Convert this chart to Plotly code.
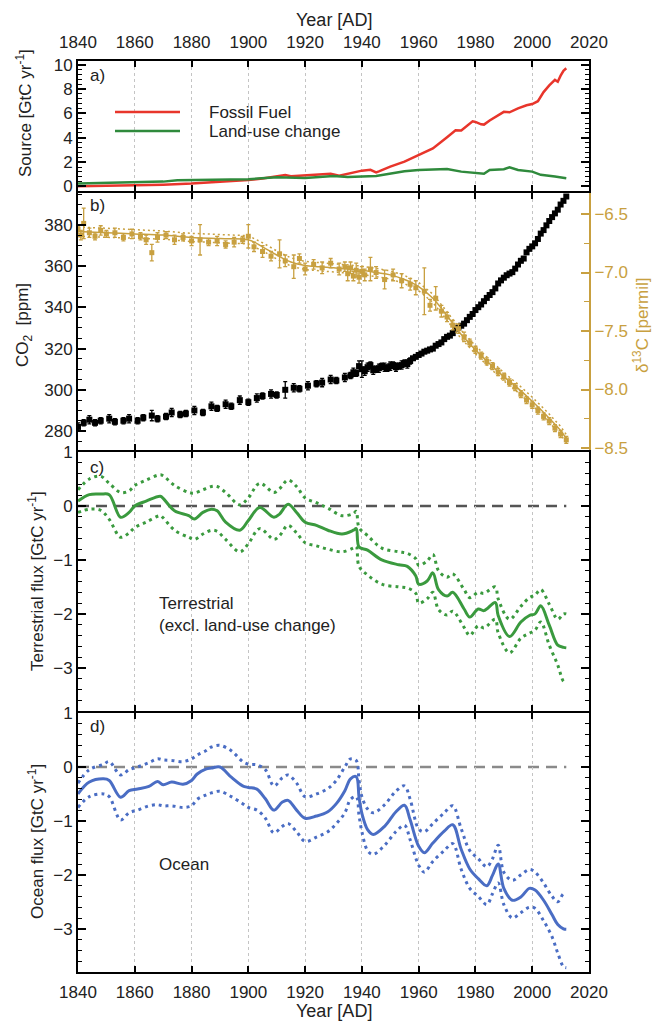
import plotly.graph_objects as go

# ---------------- data ----------------
ff_years = [1840,1850,1860,1870,1880,1890,1900,1905,1910,1913,1915,1920,1925,1929,1932,1935,1940,1943,1945,1946,1950,1955,1960,1965,1970,1973,1975,1979,1980,1982,1983,1985,1990,1992,1995,1998,2000,2002,2004,2006,2008,2009,2010,2011,2012]
ff_vals = [0.03,0.05,0.09,0.15,0.24,0.36,0.53,0.66,0.82,0.94,0.84,0.93,0.98,1.05,0.88,1.03,1.30,1.37,1.16,1.24,1.63,2.04,2.58,3.13,4.05,4.61,4.60,5.35,5.30,5.10,5.08,5.42,6.13,6.09,6.41,6.67,6.77,7.00,7.75,8.30,8.75,8.60,9.10,9.50,9.70]

luc_years = [1840,1850,1860,1870,1875,1880,1890,1900,1910,1920,1930,1935,1945,1950,1955,1960,1965,1970,1975,1980,1983,1985,1990,1992,1995,2000,2003,2008,2012]
luc_vals = [0.25,0.30,0.34,0.40,0.52,0.54,0.56,0.60,0.76,0.70,0.86,0.78,0.86,1.08,1.25,1.36,1.42,1.44,1.22,1.14,1.04,1.36,1.42,1.58,1.36,1.22,0.96,0.82,0.68]

co2_years = [1840,1842,1844,1846,1848,1851,1853,1856,1858,1861,1863,1866,1868,1871,1873,1876,1878,1881,1884,1887,1889,1892,1894,1897,1900,1903,1905,1908,1910,1913,1916,1918,1921,1924,1926,1929,1931,1934,1936,1937,1938,1939,1940,1941,1942,1943,1944,1945,1946,1947,1948,1949,1950,1951,1952,1953,1954,1955,1956,1957,
             1958,1959,1960,1961,1962,1963,1964,1965,1966,1967,1968,1969,1970,1971,1972,1973,1974,1975,1976,1977,1978,1979,1980,1981,1982,1983,1984,1985,1986,1987,1988,1989,1990,1991,1992,1993,1994,1995,1996,1997,1998,1999,2000,2001,2002,2003,2004,2005,2006,2007,2008,2009,2010,2011,2012]
co2_vals = [282.0,284.0,285.5,284.0,285.0,286.0,284.5,285.0,286.0,285.0,286.5,287.5,286.0,287.0,289.0,288.0,288.5,290.0,289.0,292.0,291.0,293.0,292.0,295.0,294.0,296.0,297.0,298.0,297.5,300.0,301.0,300.5,302.0,303.0,303.5,305.0,304.5,306.0,307.0,308.5,308.0,311.5,310.0,309.0,311.0,312.0,309.5,310.0,310.5,311.5,311.0,310.5,311.5,312.0,311.0,311.5,312.0,313.0,312.5,314.0,
            315.3,316.0,316.9,317.6,318.5,319.0,319.6,320.0,321.4,322.2,323.0,324.6,325.7,326.3,327.5,329.7,330.2,331.1,332.1,333.8,335.4,336.8,338.7,340.1,341.4,343.0,344.6,346.0,347.4,349.2,351.6,353.1,354.4,355.6,356.4,357.1,358.8,360.8,362.6,363.7,366.7,368.4,369.6,371.1,373.2,375.8,377.5,379.8,381.9,383.8,385.6,387.4,389.9,391.7,393.8]
co2_err = [2.0,1.5,2.0,1.5,1.5,2.0,1.5,1.5,2.0,1.5,1.5,2.5,1.5,1.5,2.0,1.5,1.5,2.0,1.5,2.0,1.5,2.0,1.5,2.0,1.5,2.0,1.5,2.0,1.5,4.0,2.0,1.5,2.0,1.5,2.0,2.0,1.5,2.0,1.5,2.0,1.5,2.5,4.0,2.0,2.0,1.5,2.0,1.5,2.0,1.5,2.0,1.5,2.0,1.5,2.0,1.5,2.0,1.5,2.0,1.5,
           0.6,0.6,0.6,0.6,0.6,0.6,0.6,0.6,0.6,0.6,0.6,0.6,0.6,0.6,0.6,0.6,0.6,0.6,0.6,0.6,0.6,0.6,0.6,0.6,0.6,0.6,0.6,0.6,0.6,0.6,0.6,0.6,0.6,0.6,0.6,0.6,0.6,0.6,0.6,0.6,0.6,0.6,0.6,0.6,0.6,0.6,0.6,0.6,0.6,0.6,0.6,0.6,0.6,0.6,0.6]

d13_years = [1840,1841,1842,1844,1846,1848,1850,1853,1856,1859,1862,1864,1866,1868,1871,1874,1877,1880,1883,1886,1889,1892,1895,1898,1900,1902,1905,1908,1911,1913,1916,1918,1920,1923,1926,1929,1932,1934,1935,1936,1937,1938,1939,1940,1941,1943,1945,1948,1951,1954,1957,1959,1962,1964,1966,1968,1970,1972,1974,1976,1978,1980,1982,1984,1986,1988,1990,1992,1994,1996,1998,2000,2002,2004,2006,2008,2010,2012]
d13_vals = [-6.63,-6.68,-6.58,-6.66,-6.69,-6.64,-6.67,-6.66,-6.70,-6.67,-6.69,-6.72,-6.83,-6.70,-6.68,-6.72,-6.70,-6.73,-6.72,-6.74,-6.73,-6.76,-6.74,-6.72,-6.69,-6.78,-6.82,-6.86,-6.84,-6.90,-6.95,-6.88,-6.97,-6.93,-6.96,-6.92,-6.97,-6.95,-7.01,-6.96,-7.03,-6.98,-7.04,-6.99,-7.02,-6.97,-7.00,-7.06,-7.02,-7.07,-7.10,-7.13,-7.16,-7.28,-7.22,-7.33,-7.38,-7.45,-7.48,-7.55,-7.60,-7.66,-7.71,-7.76,-7.80,-7.85,-7.89,-7.94,-7.98,-8.04,-8.09,-8.13,-8.18,-8.23,-8.27,-8.33,-8.38,-8.43]
d13_err = [0.04,0.04,0.13,0.04,0.03,0.04,0.03,0.04,0.03,0.04,0.03,0.04,0.07,0.04,0.03,0.04,0.03,0.04,0.13,0.03,0.04,0.03,0.04,0.03,0.10,0.04,0.05,0.04,0.12,0.05,0.10,0.04,0.05,0.04,0.05,0.04,0.05,0.04,0.06,0.05,0.04,0.06,0.05,0.04,0.05,0.10,0.05,0.08,0.05,0.06,0.05,0.06,0.20,0.05,0.10,0.05,0.04,0.04,0.04,0.04,0.03,0.03,0.03,0.03,0.03,0.03,0.03,0.03,0.03,0.03,0.03,0.03,0.03,0.03,0.03,0.03,0.03,0.03]

d13_fit_years = [1840,1850,1860,1870,1880,1890,1900,1905,1910,1915,1920,1925,1930,1935,1940,1945,1950,1955,1960,1965,1970,1975,1980,1985,1990,1995,2000,2005,2010,2012]
d13_fit = [-6.65,-6.66,-6.67,-6.68,-6.70,-6.71,-6.72,-6.78,-6.85,-6.91,-6.94,-6.95,-6.96,-6.97,-6.98,-7.00,-7.02,-7.06,-7.12,-7.22,-7.37,-7.53,-7.66,-7.78,-7.89,-7.99,-8.10,-8.22,-8.35,-8.42]
d13_hi = [-6.61,-6.62,-6.63,-6.645,-6.665,-6.675,-6.685,-6.745,-6.815,-6.875,-6.905,-6.915,-6.925,-6.935,-6.945,-6.965,-6.985,-7.025,-7.085,-7.185,-7.335,-7.495,-7.625,-7.745,-7.855,-7.955,-8.065,-8.185,-8.315,-8.385]
d13_lo = [-6.69,-6.70,-6.71,-6.715,-6.735,-6.745,-6.755,-6.815,-6.885,-6.945,-6.975,-6.985,-6.995,-7.005,-7.015,-7.035,-7.055,-7.095,-7.155,-7.255,-7.405,-7.565,-7.695,-7.815,-7.925,-8.025,-8.135,-8.255,-8.385,-8.455]

terr_years = [1840,1844,1848,1851,1855,1858,1860,1864,1869,1870,1874,1879,1881,1884,1887,1889,1892,1897,1900,1904,1909,1911,1914,1917,1920,1924,1928,1933,1937,1938,1939,1942,1947,1953,1956,1959,1960,1963,1965,1967,1970,1972,1976,1978,1981,1983,1987,1988,1992,1996,1999,2001,2003,2006,2009,2011,2012]
terr_vals = [0.09,0.21,0.22,0.21,-0.21,-0.12,0.0,0.09,0.18,0.14,-0.09,-0.18,-0.24,-0.12,-0.06,-0.09,-0.30,-0.45,-0.27,-0.03,-0.21,-0.15,0.03,-0.12,-0.30,-0.36,-0.45,-0.52,-0.45,-0.42,-0.76,-0.82,-1.00,-1.09,-1.12,-1.30,-1.45,-1.39,-1.24,-1.55,-1.67,-1.60,-1.91,-2.06,-1.91,-1.94,-1.79,-2.03,-2.42,-2.15,-2.03,-2.00,-1.85,-2.21,-2.58,-2.62,-2.63]
terr_hi = [0.30,0.50,0.55,0.42,0.25,0.28,0.38,0.48,0.58,0.56,0.38,0.25,0.24,0.30,0.36,0.36,0.25,0.02,0.15,0.42,0.25,0.32,0.48,0.36,0.15,0.06,-0.04,-0.18,-0.14,-0.10,-0.40,-0.55,-0.78,-0.85,-0.88,-0.98,-1.10,-1.02,-0.90,-1.20,-1.32,-1.26,-1.55,-1.70,-1.60,-1.62,-1.50,-1.72,-2.10,-1.86,-1.70,-1.65,-1.55,-1.82,-2.10,-2.00,-2.00]
terr_lo = [-0.12,-0.06,-0.08,-0.25,-0.58,-0.50,-0.40,-0.30,-0.18,-0.22,-0.45,-0.58,-0.62,-0.52,-0.45,-0.47,-0.62,-0.85,-0.70,-0.42,-0.62,-0.55,-0.36,-0.50,-0.68,-0.74,-0.80,-0.85,-0.78,-0.75,-1.12,-1.28,-1.45,-1.50,-1.52,-1.62,-1.80,-1.72,-1.60,-1.92,-2.02,-1.95,-2.25,-2.40,-2.22,-2.26,-2.10,-2.35,-2.72,-2.45,-2.36,-2.30,-2.15,-2.58,-2.95,-3.25,-3.28]

ocean_years = [1840,1844,1849,1851,1855,1858,1861,1865,1868,1870,1873,1877,1880,1882,1885,1887,1890,1894,1898,1900,1903,1906,1909,1912,1914,1917,1920,1924,1928,1931,1934,1936,1938,1939,1940,1942,1944,1948,1952,1955,1957,1960,1962,1965,1969,1972,1975,1978,1981,1984,1986,1988,1990,1993,1996,1999,2001,2004,2007,2009,2011,2012]
ocean_vals = [-0.50,-0.28,-0.22,-0.25,-0.56,-0.44,-0.41,-0.36,-0.27,-0.33,-0.28,-0.32,-0.25,-0.13,-0.04,-0.02,0.0,-0.19,-0.35,-0.38,-0.41,-0.59,-0.80,-0.65,-0.62,-0.80,-0.95,-0.91,-0.83,-0.68,-0.44,-0.22,-0.18,-0.56,-0.86,-1.16,-1.25,-1.10,-0.83,-0.71,-0.98,-1.47,-1.59,-1.41,-1.19,-1.07,-1.53,-1.89,-2.07,-2.20,-2.01,-1.80,-2.25,-2.47,-2.41,-2.25,-2.28,-2.47,-2.74,-2.92,-3.00,-3.01]
ocean_hi = [-0.30,-0.05,0.05,0.10,-0.15,-0.05,0.00,0.08,0.15,0.13,0.12,0.10,0.15,0.22,0.30,0.37,0.40,0.30,0.10,0.05,0.04,-0.05,-0.35,-0.20,-0.15,-0.30,-0.55,-0.50,-0.40,-0.25,0.00,0.15,0.12,-0.25,-0.55,-0.78,-0.85,-0.70,-0.45,-0.35,-0.60,-1.15,-1.20,-1.05,-0.85,-0.72,-1.15,-1.55,-1.70,-1.85,-1.70,-1.45,-1.95,-2.10,-2.00,-1.90,-1.95,-2.15,-2.40,-2.50,-2.35,-2.35]
ocean_lo = [-0.75,-0.55,-0.50,-0.55,-0.98,-0.85,-0.80,-0.72,-0.70,-0.72,-0.72,-0.75,-0.72,-0.60,-0.52,-0.48,-0.45,-0.55,-0.68,-0.75,-0.80,-0.95,-1.22,-1.10,-1.05,-1.20,-1.38,-1.30,-1.20,-1.05,-0.85,-0.60,-0.55,-0.90,-1.20,-1.55,-1.62,-1.45,-1.20,-1.08,-1.35,-1.82,-1.95,-1.75,-1.55,-1.42,-1.90,-2.25,-2.40,-2.55,-2.35,-2.15,-2.55,-2.80,-2.70,-2.60,-2.62,-2.85,-3.15,-3.45,-3.70,-3.72]

x_ticks = [1840,1860,1880,1900,1920,1940,1960,1980,2000,2020]

# ---------------- style ----------------
RED = "#e8352b"
GREEN_A = "#2f8a3c"
GREEN = "#3a9a3e"
GOLD = "#c8a040"
BLUE = "#4a6dc4"
TXT = "#222222"
FONT = "Liberation Sans"
FS = 17
LW = 2

W, H = 652, 1021
L, R, T, B = 78, 63, 61, 49
pw, ph = W - L - R, H - T - B

def xp(px):
    return (px - L) / pw

def yp(py):
    return (H - B - py) / ph

# panels separated by 2px so that the (outside-drawn) frame lines coincide
dom_a = [yp(191), 1.0]
dom_b = [yp(450), yp(193)]
dom_c = [yp(711), yp(452)]
dom_d = [0.0, yp(713)]

fig = go.Figure()

# panel a
fig.add_trace(go.Scatter(x=ff_years, y=ff_vals, mode="lines", line=dict(color=RED, width=2.5),
                         xaxis="x", yaxis="y", showlegend=False))
fig.add_trace(go.Scatter(x=luc_years, y=luc_vals, mode="lines", line=dict(color=GREEN_A, width=2.5),
                         xaxis="x", yaxis="y", showlegend=False))

# panel b: d13C
fig.add_trace(go.Scatter(x=d13_fit_years, y=d13_hi, mode="lines", line=dict(color=GOLD, width=1.5, dash="2px,3px"),
                         xaxis="x2", yaxis="y5", showlegend=False))
fig.add_trace(go.Scatter(x=d13_fit_years, y=d13_lo, mode="lines", line=dict(color=GOLD, width=1.5, dash="2px,3px"),
                         xaxis="x2", yaxis="y5", showlegend=False))
fig.add_trace(go.Scatter(x=d13_fit_years, y=d13_fit, mode="lines", line=dict(color=GOLD, width=1.5, shape="spline"),
                         xaxis="x2", yaxis="y5", showlegend=False))
fig.add_trace(go.Scatter(x=d13_years, y=d13_vals, mode="markers",
                         marker=dict(color=GOLD, size=5, symbol="square"),
                         error_y=dict(type="data", array=d13_err, color=GOLD, thickness=1.3, width=2),
                         xaxis="x2", yaxis="y5", showlegend=False))
# panel b: CO2
fig.add_trace(go.Scatter(x=co2_years, y=co2_vals, mode="markers",
                         marker=dict(color="black", size=6, symbol="square"),
                         error_y=dict(type="data", array=co2_err, color="black", thickness=1.3, width=2),
                         xaxis="x2", yaxis="y2", showlegend=False))

# panel c
fig.add_shape(type="line", xref="x3", yref="y3", x0=terr_years[0], x1=terr_years[-1], y0=0, y1=0,
              line=dict(color="#555555", width=2.5, dash="11px,7px"), layer="below")
fig.add_trace(go.Scatter(x=terr_years, y=terr_hi, mode="lines", line=dict(color=GREEN, width=3, dash="3px,4px", shape="spline"),
                         xaxis="x3", yaxis="y3", showlegend=False))
fig.add_trace(go.Scatter(x=terr_years, y=terr_lo, mode="lines", line=dict(color=GREEN, width=3, dash="3px,4px", shape="spline"),
                         xaxis="x3", yaxis="y3", showlegend=False))
fig.add_trace(go.Scatter(x=terr_years, y=terr_vals, mode="lines", line=dict(color=GREEN, width=3, shape="spline"),
                         xaxis="x3", yaxis="y3", showlegend=False))

# panel d
fig.add_shape(type="line", xref="x4", yref="y4", x0=ocean_years[0], x1=ocean_years[-1], y0=0, y1=0,
              line=dict(color="#8a8a8a", width=2.5, dash="11px,7px"), layer="below")
fig.add_trace(go.Scatter(x=ocean_years, y=ocean_hi, mode="lines", line=dict(color=BLUE, width=3, dash="3px,4px", shape="spline"),
                         xaxis="x4", yaxis="y4", showlegend=False))
fig.add_trace(go.Scatter(x=ocean_years, y=ocean_lo, mode="lines", line=dict(color=BLUE, width=3, dash="3px,4px", shape="spline"),
                         xaxis="x4", yaxis="y4", showlegend=False))
fig.add_trace(go.Scatter(x=ocean_years, y=ocean_vals, mode="lines", line=dict(color=BLUE, width=3, shape="spline"),
                         xaxis="x4", yaxis="y4", showlegend=False))

# ---------------- axes ----------------
def xax(anchor, show, side="bottom"):
    return dict(range=[1840, 2020], tickvals=x_ticks, showgrid=True, gridcolor="#c4c4c4",
                griddash="3px,3px", gridwidth=1, ticks="inside", ticklen=6, tickwidth=2, tickcolor="black",
                showline=True, linecolor="black", linewidth=LW, mirror="ticks", zeroline=False,
                showticklabels=show, side=side, anchor=anchor,
                tickfont=dict(family=FONT, size=FS, color=TXT), ticklabelstandoff=4)

def yax(domain, rng, dtick, mdtick, mirror="ticks"):
    return dict(domain=domain, range=rng, dtick=dtick, ticks="inside", ticklen=8, tickwidth=1.5,
                tickcolor="black", showline=True, linecolor="black", linewidth=LW, mirror=mirror,
                showgrid=False, zeroline=False, tickfont=dict(family=FONT, size=FS, color=TXT),
                minor=dict(ticks="inside", ticklen=4, tickwidth=1, tickcolor="black", dtick=mdtick, showgrid=False))

fig.update_layout(
    width=W, height=H, margin=dict(l=L, r=R, t=T, b=B, pad=0),
    paper_bgcolor="white", plot_bgcolor="white",
    font=dict(family=FONT, size=FS, color=TXT),
    xaxis=dict(xax("y", True, "top"), domain=[0, 1]),
    xaxis2=dict(xax("y2", False), domain=[0, 1]),
    xaxis3=dict(xax("y3", False), domain=[0, 1]),
    xaxis4=dict(xax("y4", True), domain=[0, 1]),
    yaxis=yax(dom_a, [-0.37, 10.3], 2, 0.4),
    yaxis2=dict(yax(dom_b, [270.8, 395.5], 20, 5, mirror=False), tick0=0),
    yaxis3=yax(dom_c, [-3.80, 1.0], 1, 0.2),
    yaxis4=yax(dom_d, [-3.80, 1.0], 1, 0.2),
    yaxis5=dict(overlaying="y2", side="right", anchor="x2", range=[-8.517, -6.32], dtick=0.5,
                ticks="inside", ticklen=8, tickwidth=1.5, tickcolor=GOLD, showline=True,
                linecolor=GOLD, linewidth=LW, showgrid=False, zeroline=False,
                tickformat=".1f", tickfont=dict(family=FONT, size=FS, color=GOLD),
                minor=dict(ticks="inside", ticklen=5, tickwidth=1.2, tickcolor=GOLD, dtick=0.25)),
)

# ---------------- text ----------------
ann = []
def add_text(px, py, text, xanchor="center", yanchor="middle", angle=0, color=TXT, size=FS):
    ann.append(dict(xref="paper", yref="paper", x=xp(px), y=yp(py), text=text, showarrow=False,
                    xanchor=xanchor, yanchor=yanchor, textangle=angle,
                    font=dict(family=FONT, size=size, color=color)))

add_text(334, 20, "Year [AD]", size=18)
add_text(334, 1011, "Year [AD]", size=18)
add_text(24, 113, "Source [GtC yr<sup>-1</sup>]", angle=-90)
add_text(24, 325, "CO<sub>2</sub>  [ppm]", angle=-90)
add_text(641, 326, "δ<sup>13</sup>C [permil]", angle=-90, color=GOLD)
add_text(36, 581, "Terrestrial flux [GtC yr<sup>-1</sup>]", angle=-90)
add_text(36, 842, "Ocean flux [GtC yr<sup>-1</sup>]", angle=-90)
add_text(88, 75, "a)", xanchor="left")
add_text(88, 205, "b)", xanchor="left")
add_text(88, 467, "c)", xanchor="left")
add_text(88, 726, "d)", xanchor="left")
add_text(207, 112, "Fossil Fuel", xanchor="left")
add_text(207, 131, "Land-use change", xanchor="left")
add_text(157, 603, "Terrestrial", xanchor="left")
add_text(157, 625, "(excl. land-use change)", xanchor="left")
add_text(157, 864, "Ocean", xanchor="left")
fig.update_layout(annotations=ann)

fig.add_shape(type="line", xref="paper", yref="paper", x0=xp(115), x1=xp(180), y0=yp(112), y1=yp(112),
              line=dict(color=RED, width=2.5))
fig.add_shape(type="line", xref="paper", yref="paper", x0=xp(115), x1=xp(180), y0=yp(131), y1=yp(131),
              line=dict(color=GREEN_A, width=2.5))

fig.write_html("out.html")
